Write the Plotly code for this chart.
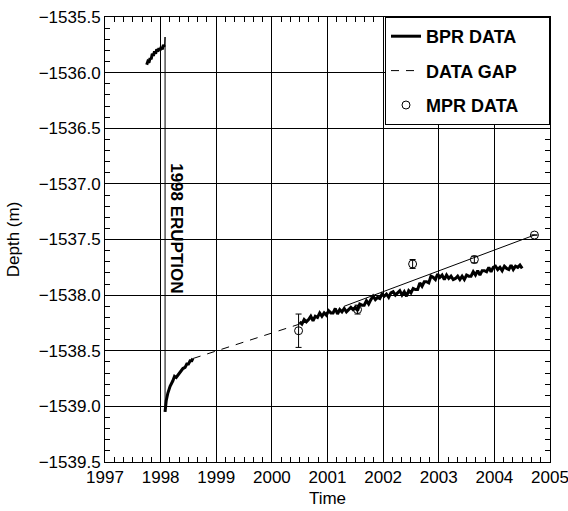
import plotly.graph_objects as go

# ---------------- data ----------------
pre_t = [1997.75, 1997.77, 1997.79, 1997.81, 1997.83, 1997.85, 1997.87, 1997.89, 1997.91,
         1997.93, 1997.95, 1997.97, 1997.99, 1998.01, 1998.03, 1998.05, 1998.07]
pre_d = [-1535.93, -1535.90, -1535.91, -1535.87, -1535.88, -1535.83, -1535.85, -1535.81, -1535.83,
         -1535.79, -1535.81, -1535.78, -1535.80, -1535.77, -1535.79, -1535.75, -1535.77]

drop_t = [1998.07, 1998.08, 1998.08]
drop_d = [-1535.77, -1535.68, -1539.05]

rec_t = [1998.08, 1998.10, 1998.13, 1998.17, 1998.22, 1998.25, 1998.28, 1998.33, 1998.37,
         1998.40, 1998.44, 1998.47, 1998.50, 1998.53, 1998.56, 1998.58]
rec_d = [-1539.05, -1538.95, -1538.88, -1538.82, -1538.77, -1538.73, -1538.74, -1538.70, -1538.68,
         -1538.66, -1538.65, -1538.62, -1538.62, -1538.59, -1538.59, -1538.57]

gap_t = [1998.58, 2000.50]
gap_d = [-1538.57, -1538.26]

post_t = [2000.50, 2000.54, 2000.58, 2000.62, 2000.66, 2000.70, 2000.74, 2000.78, 2000.82, 2000.86,
          2000.90, 2000.94, 2000.98, 2001.02, 2001.06, 2001.10, 2001.14, 2001.18, 2001.22, 2001.26,
          2001.30, 2001.34, 2001.38, 2001.42, 2001.46, 2001.50, 2001.54, 2001.58, 2001.62, 2001.66,
          2001.70, 2001.74, 2001.78, 2001.82, 2001.86, 2001.90, 2001.94, 2001.98, 2002.02, 2002.06,
          2002.10, 2002.14, 2002.18, 2002.22, 2002.26, 2002.30, 2002.34, 2002.38, 2002.42, 2002.46,
          2002.50, 2002.54, 2002.58, 2002.62, 2002.66, 2002.70, 2002.74, 2002.78, 2002.82, 2002.86,
          2002.90, 2002.94, 2002.98, 2003.02, 2003.06, 2003.10, 2003.14, 2003.18, 2003.22, 2003.26,
          2003.30, 2003.34, 2003.38, 2003.42, 2003.46, 2003.50, 2003.54, 2003.58, 2003.62, 2003.66,
          2003.70, 2003.74, 2003.78, 2003.82, 2003.86, 2003.90, 2003.94, 2003.98, 2004.02, 2004.06,
          2004.10, 2004.14, 2004.18, 2004.22, 2004.26, 2004.30, 2004.34, 2004.38, 2004.42, 2004.46,
          2004.50]
post_d = [-1538.24, -1538.26, -1538.22, -1538.24, -1538.22, -1538.19, -1538.23, -1538.19, -1538.20, -1538.16,
          -1538.19, -1538.16, -1538.18, -1538.14, -1538.16, -1538.16, -1538.12, -1538.17, -1538.13, -1538.15,
          -1538.12, -1538.15, -1538.13, -1538.11, -1538.13, -1538.11, -1538.14, -1538.08, -1538.09, -1538.09,
          -1538.05, -1538.08, -1538.04, -1538.01, -1538.04, -1538.02, -1538.03, -1537.99, -1538.01, -1537.99,
          -1538.02, -1537.98, -1537.97, -1538.00, -1537.98, -1537.96, -1538.00, -1537.97, -1538.01, -1537.96,
          -1537.98, -1537.94, -1537.95, -1537.95, -1537.89, -1537.92, -1537.88, -1537.88, -1537.89, -1537.83,
          -1537.84, -1537.86, -1537.81, -1537.84, -1537.82, -1537.86, -1537.82, -1537.85, -1537.83, -1537.86,
          -1537.85, -1537.83, -1537.86, -1537.83, -1537.86, -1537.82, -1537.83, -1537.83, -1537.79, -1537.82,
          -1537.78, -1537.82, -1537.78, -1537.78, -1537.79, -1537.75, -1537.79, -1537.75, -1537.74, -1537.77,
          -1537.75, -1537.78, -1537.74, -1537.76, -1537.77, -1537.73, -1537.77, -1537.74, -1537.75, -1537.73,
          -1537.76]

mpr_t = [2000.48, 2001.54, 2002.53, 2003.64, 2004.72]
mpr_d = [-1538.32, -1538.13, -1537.72, -1537.68, -1537.46]
mpr_err = [0.15, 0.04, 0.04, 0.03, 0.0]

fit_t = [2001.30, 2004.72]
fit_d = [-1538.10, -1537.46]

x_range = [1997, 2005]
y_range = [-1539.5, -1535.5]

# ---------------- figure ----------------
fig = go.Figure()
BLACK = "#000000"
BW = 3
PAD = "\u00a0" * 5

fig.add_trace(go.Scatter(x=pre_t, y=pre_d, mode="lines", line=dict(color=BLACK, width=BW),
                         name="BPR DATA" + PAD, legendgroup="a", showlegend=True))
fig.add_trace(go.Scatter(x=drop_t, y=drop_d, mode="lines", line=dict(color=BLACK, width=1),
                         legendgroup="a", showlegend=False))
fig.add_trace(go.Scatter(x=rec_t, y=rec_d, mode="lines", line=dict(color=BLACK, width=BW),
                         legendgroup="a", showlegend=False))
fig.add_trace(go.Scatter(x=post_t, y=post_d, mode="lines", line=dict(color=BLACK, width=BW),
                         legendgroup="a", showlegend=False))
fig.add_trace(go.Scatter(x=gap_t, y=gap_d, mode="lines", line=dict(color=BLACK, width=1, dash="8px,7px"),
                         name="DATA GAP" + PAD, legendgroup="b"))
fig.add_trace(go.Scatter(x=fit_t, y=fit_d, mode="lines", line=dict(color=BLACK, width=1),
                         showlegend=False))
fig.add_trace(go.Scatter(x=mpr_t, y=mpr_d, mode="markers",
                         marker=dict(symbol="circle-open", size=8, color=BLACK, line=dict(width=1)),
                         error_y=dict(type="data", array=mpr_err, color=BLACK, thickness=1, width=3),
                         name="MPR DATA" + PAD, legendgroup="c"))

# empty traces that carry the overlay axes used for the minor (inside) ticks
fig.add_trace(go.Scatter(x=[None], y=[None], xaxis="x2", yaxis="y2", showlegend=False, hoverinfo="skip"))
fig.add_trace(go.Scatter(x=[None], y=[None], xaxis="x3", yaxis="y3", showlegend=False, hoverinfo="skip"))

fig.add_annotation(x=1998.28, y=-1537.40, text="<b>1998 ERUPTION</b>", textangle=90,
                   showarrow=False, font=dict(family="Arial", size=17, color=BLACK))

tickfont = dict(family="Arial", size=17, color=BLACK)
major = dict(showline=True, linecolor=BLACK, linewidth=1, mirror=True,
             showgrid=True, gridcolor=BLACK, gridwidth=1, zeroline=False,
             ticks="inside", ticklen=5, tickcolor=BLACK, automargin=False,
             tickfont=tickfont, title_font=tickfont)
minor_ax = dict(showline=False, showgrid=False, zeroline=False, showticklabels=False,
                ticks="inside", ticklen=5, tickcolor=BLACK, tickwidth=1, automargin=False)

fig.update_layout(
    xaxis=dict(range=x_range, tickmode="linear", tick0=1997, dtick=1, tickformat="d",
               ticklabeloverflow="allow", title_text="Time", title_standoff=5, **major),
    yaxis=dict(range=y_range, tickmode="linear", tick0=-1539.5, dtick=0.5, tickformat=".1f",
               title_text="Depth (m)", title_standoff=14, **major),
    xaxis2=dict(range=x_range, overlaying="x", anchor="y2", side="bottom",
                tickmode="linear", tick0=1997, dtick=1 / 6, **minor_ax),
    yaxis2=dict(range=y_range, overlaying="y", anchor="x2", side="left",
                tickmode="linear", tick0=-1539.5, dtick=0.1, **minor_ax),
    xaxis3=dict(range=x_range, overlaying="x", anchor="y3", side="top",
                tickmode="linear", tick0=1997, dtick=1 / 6, **minor_ax),
    yaxis3=dict(range=y_range, overlaying="y", anchor="x3", side="right",
                tickmode="linear", tick0=-1539.5, dtick=0.1, **minor_ax),
)

fig.update_layout(
    width=568, height=511,
    margin=dict(l=105, r=18, t=17, b=49),
    paper_bgcolor="white", plot_bgcolor="white",
    font=dict(family="Arial", color=BLACK),
    showlegend=True,
    legend=dict(x=1, y=1, xanchor="right", yanchor="top", bgcolor="white",
                bordercolor=BLACK, borderwidth=1, traceorder="grouped", tracegroupgap=8,
                font=dict(family="Arial", size=18, color=BLACK, weight="bold"),
                itemwidth=30),
)

fig.write_html("out.html")
